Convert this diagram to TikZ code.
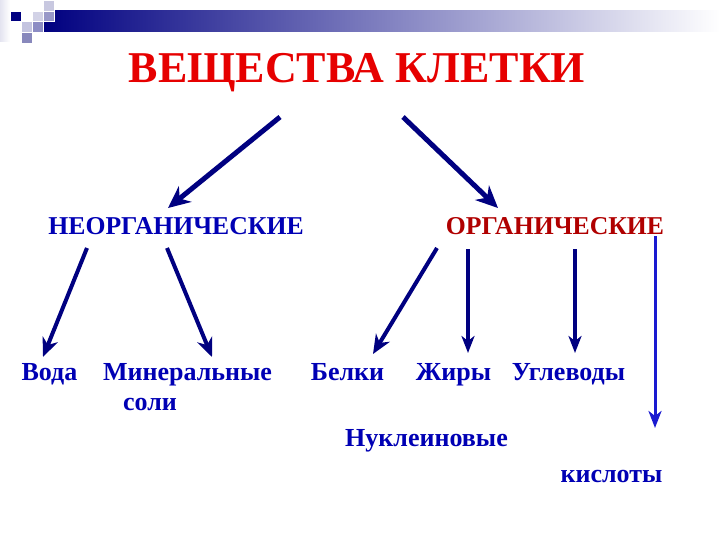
\documentclass[tikz,border=0pt]{standalone}
\usepackage{fontspec}
\setmainfont{Liberation Serif}
\usetikzlibrary{arrows.meta}
\definecolor{navyA}{HTML}{000080}
\definecolor{titlered}{HTML}{E60000}
\definecolor{darkred}{HTML}{B00000}
\definecolor{txtblue}{HTML}{0000B4}
\definecolor{brightblue}{HTML}{1A1AD0}
\definecolor{sqA}{HTML}{C8C8E0}
\definecolor{sqB}{HTML}{D2D2E6}
\definecolor{sqC}{HTML}{9898C8}
\definecolor{sqD}{HTML}{C4C4E0}
\definecolor{sqE}{HTML}{8C8CC4}
\definecolor{sqF}{HTML}{8888BC}
\tikzset{
  x=1pt, y=-1pt,
  lbl/.style={font=\bfseries\fontsize{26}{28}\selectfont, text=txtblue, anchor=base, inner sep=0pt},
  cat/.style={font=\bfseries\fontsize{25.7}{28}\selectfont, anchor=base, inner sep=0pt},
  bigarr/.style={draw=navyA, line width=5pt, -{Stealth[length=22pt,width=20pt,inset=7pt]}},
  midarr/.style={draw=navyA, line width=4pt, -{Stealth[length=19pt,width=16pt,inset=6pt]}},
  thinarr/.style={draw=navyA, line width=3.2pt, -{Stealth[length=17pt,width=13pt,inset=5pt]}},
  bluearr/.style={draw=brightblue, line width=3pt, -{Stealth[length=17pt,width=13pt,inset=5pt]}},
  sq/.style={draw=white, line width=0.8pt}
}
\begin{document}
\begin{tikzpicture}
\useasboundingbox (0,0) rectangle (720,540);
% header decoration
\shade[left color=sqB!60, right color=white] (0,0) rectangle (10,42);
\shade[left color=navyA, right color=white] (43,11) rectangle (720,32);
\fill[navyA, sq] (10,11) rectangle (21,21);
\fill[sqA, sq] (43,0) rectangle (54,11);
\fill[sqB, sq] (32,11) rectangle (43,21);
\fill[sqC, sq] (43,11) rectangle (54,21);
\fill[sqD, sq] (21,21) rectangle (32,32);
\fill[sqE, sq] (32,21) rectangle (43,32);
\fill[sqF, sq] (21,32) rectangle (32,43);

% texts
\node[font=\bfseries\fontsize{44}{48}\selectfont, text=titlered, anchor=base, inner sep=0pt] (title) at (357,83) {ВЕЩЕСТВА КЛЕТКИ};
\node[cat, text=txtblue] (inorg) at (176,234) {НЕОРГАНИЧЕСКИЕ};
\node[cat, text=darkred] (org) at (555,234) {ОРГАНИЧЕСКИЕ};
\node[lbl] (voda) at (49.5,380) {Вода};
\node[lbl] (miner) at (187.5,380) {Минеральные};
\node[lbl] (soli) at (150,410) {соли};
\node[lbl] (belki) at (347.5,380) {Белки};
\node[lbl] (zhiry) at (453.5,380) {Жиры};
\node[lbl] (uglev) at (568.5,380) {Углеводы};
\node[lbl] (nukl) at (426.5,446) {Нуклеиновые};
\node[lbl] (kisl) at (611.5,482) {кислоты};

% connector ends
\coordinate (t1) at (280,117); \coordinate (h1) at (168,208);
\coordinate (t2) at (403,117); \coordinate (h2) at (498,208);
\coordinate (t3) at (87,248);  \coordinate (h3) at (43,357);
\coordinate (t4) at (167,248); \coordinate (h4) at (212,357);
\coordinate (t5) at (437,248); \coordinate (h5) at (373,354);
\coordinate (t6) at (468,249); \coordinate (h6) at (468,353);
\coordinate (t7) at (575,249); \coordinate (h7) at (575,353);
\coordinate (t8) at (655,236); \coordinate (h8) at (655,428);

\draw[bigarr] (t1) -- (h1);
\draw[bigarr] (t2) -- (h2);
\draw[midarr] (t3) -- (h3);
\draw[midarr] (t4) -- (h4);
\draw[midarr] (t5) -- (h5);
\draw[thinarr] (t6) -- (h6);
\draw[thinarr] (t7) -- (h7);
\draw[bluearr] (t8) -- (h8);
\end{tikzpicture}
\end{document}
